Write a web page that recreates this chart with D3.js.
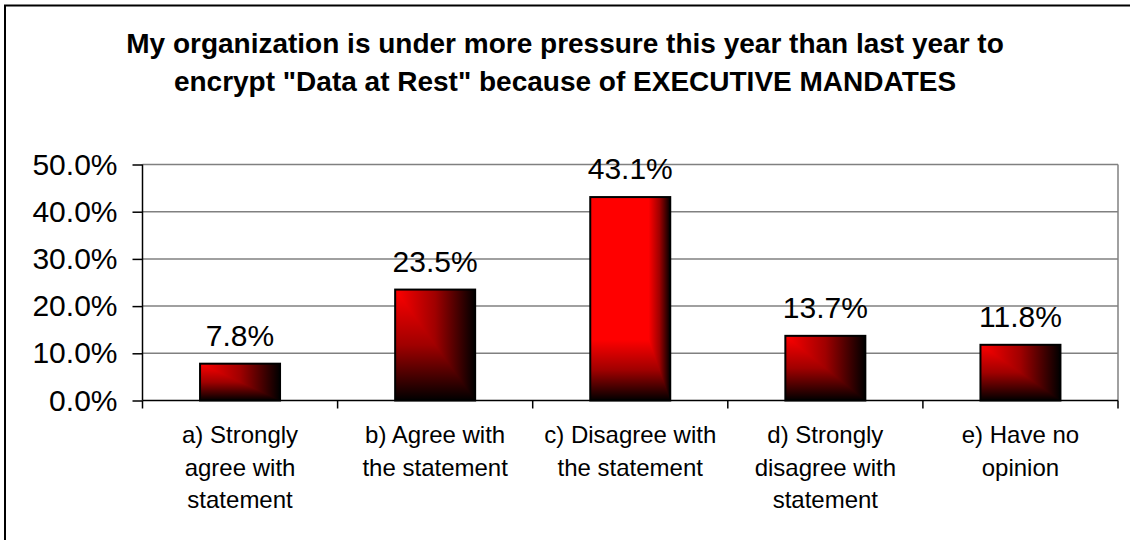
<!DOCTYPE html>
<html>
<head>
<meta charset="utf-8">
<script src="https://cdn.jsdelivr.net/npm/d3@7"></script>
<style>
  body { margin: 0; background: #fff; }
  svg { display: block; }
  text { font-family: "Liberation Sans", Arial, sans-serif; fill: #000; }
</style>
</head>
<body>
<svg id="chart" width="1130" height="540"></svg>
<script>
// Survey results: share of respondents per answer
const titleLines = [
  'My organization is under more pressure this year than last year to',
  'encrypt "Data at Rest" because of EXECUTIVE MANDATES'
];
const categories = ["a", "b", "c", "d", "e"];
const categoryLines = [
  ["a) Strongly", "agree with", "statement"],
  ["b) Agree with", "the statement"],
  ["c) Disagree with", "the statement"],
  ["d) Strongly", "disagree with", "statement"],
  ["e) Have no", "opinion"]
];
const values = [7.8, 23.5, 43.1, 13.7, 11.8];
const yTicks = [0, 10, 20, 30, 40, 50];

const W = 1130, H = 540;
const plot = { left: 142.5, right: 1118, top: 164.5, bottom: 400.5 };

const svg = d3.select("#chart");
const defs = svg.append("defs");

// outer frame
svg.append("path")
  .attr("d", `M5,${H + 5} V5.5 H${W + 5}`)
  .attr("fill", "none").attr("stroke", "#000").attr("stroke-width", 2);

// title
svg.append("text")
  .attr("text-anchor", "middle")
  .attr("font-weight", "bold")
  .attr("font-size", 28)
  .selectAll("tspan").data(titleLines).join("tspan")
  .attr("x", W / 2)
  .attr("y", (d, i) => 53 + i * 38)
  .text(d => d);

const x = d3.scaleBand()
  .domain(categories)
  .range([plot.left, plot.right])
  .paddingInner(0.59)
  .paddingOuter(0.295);

const y = d3.scaleLinear().domain([0, 50]).range([plot.bottom, plot.top]);

// gridlines
svg.append("g").selectAll("line").data(yTicks.filter(t => t > 0)).join("line")
  .attr("x1", plot.left).attr("x2", plot.right)
  .attr("y1", d => y(d)).attr("y2", d => y(d))
  .attr("stroke", "#808080").attr("stroke-width", 1.5);

// plot area right edge
svg.append("line")
  .attr("x1", plot.right).attr("x2", plot.right)
  .attr("y1", plot.top).attr("y2", plot.bottom)
  .attr("stroke", "#808080").attr("stroke-width", 1.5);

// y axis
const yAxis = svg.append("g")
  .attr("transform", `translate(${plot.left},0)`)
  .call(d3.axisLeft(y).tickValues(yTicks).tickSize(10).tickPadding(15)
    .tickFormat(d => d.toFixed(1) + "%"));
yAxis.select(".domain").attr("stroke", "#000").attr("stroke-width", 1.5)
  .attr("d", `M0,${plot.top}V${plot.bottom}`);
yAxis.selectAll(".tick line").attr("stroke", "#000").attr("stroke-width", 1.5);
yAxis.selectAll(".tick text")
  .attr("font-size", 30).attr("font-family", null).attr("fill", "#000");

// x axis
const step = x.step(), bw = x.bandwidth();
const bounds = d3.range(categories.length + 1).map(i =>
  i < categories.length ? x(categories[i]) + bw / 2 - step / 2
                        : x(categories[i - 1]) + bw / 2 + step / 2);
svg.append("line")
  .attr("x1", plot.left).attr("x2", plot.right)
  .attr("y1", plot.bottom).attr("y2", plot.bottom)
  .attr("stroke", "#000").attr("stroke-width", 1.5);
svg.append("g").selectAll("line").data(bounds).join("line")
  .attr("x1", d => d).attr("x2", d => d)
  .attr("y1", plot.bottom).attr("y2", plot.bottom + 8)
  .attr("stroke", "#000").attr("stroke-width", 1.5);

// bars: red-to-black corner gradient, split along the diagonal seam
const bars = categories.map((c, i) => {
  const x0 = x(c), y0 = y(values[i]), h = y(0) - y(values[i]);
  const tall = h > 150;
  const bandX = tall ? bw * 0.27 : bw;
  const bandY = tall ? h * 0.3 : h;
  return { c, v: values[i], i, x0, y0, w: bw, h, bandX, bandY };
});

function addStops(g) {
  g.append("stop").attr("offset", 0).attr("stop-color", "#ff0000");
  g.append("stop").attr("offset", 0.5).attr("stop-color", "#a00000");
  g.append("stop").attr("offset", 1).attr("stop-color", "#000000");
}
bars.forEach(b => {
  const gh = defs.append("linearGradient").attr("id", "gh" + b.i)
    .attr("gradientUnits", "userSpaceOnUse")
    .attr("x1", b.x0 + b.w - b.bandX).attr("x2", b.x0 + b.w)
    .attr("y1", 0).attr("y2", 0);
  addStops(gh);
  const gv = defs.append("linearGradient").attr("id", "gv" + b.i)
    .attr("gradientUnits", "userSpaceOnUse")
    .attr("x1", 0).attr("x2", 0)
    .attr("y1", b.y0 + b.h - b.bandY).attr("y2", b.y0 + b.h);
  addStops(gv);
});

const barG = svg.append("g").selectAll("g").data(bars).join("g");
barG.append("rect")
  .attr("x", d => d.x0).attr("y", d => d.y0)
  .attr("width", d => d.w).attr("height", d => d.h)
  .attr("fill", d => `url(#gv${d.i})`);
barG.append("path")
  .attr("d", d => {
    const fx = d.x0 + d.w - d.bandX, fy = d.y0 + d.h - d.bandY;
    return `M${d.x0},${d.y0}H${d.x0 + d.w}V${d.y0 + d.h}L${fx},${fy}H${d.x0}Z`;
  })
  .attr("fill", d => `url(#gh${d.i})`);
barG.append("rect")
  .attr("x", d => d.x0).attr("y", d => d.y0)
  .attr("width", d => d.w).attr("height", d => d.h)
  .attr("fill", "none").attr("stroke", "#000").attr("stroke-width", 2);

// value labels
svg.append("g").selectAll("text").data(bars).join("text")
  .attr("x", d => d.x0 + d.w / 2)
  .attr("y", d => d.y0 - 18)
  .attr("text-anchor", "middle")
  .attr("font-size", 30)
  .text(d => d.v.toFixed(1) + "%");

// category labels
svg.append("g").selectAll("text").data(categories).join("text")
  .attr("text-anchor", "middle")
  .attr("font-size", 24)
  .each(function (c, i) {
    d3.select(this).selectAll("tspan").data(categoryLines[i]).join("tspan")
      .attr("x", x(c) + bw / 2)
      .attr("y", (d, j) => 443 + j * 32.5)
      .text(d => d);
  });
</script>
</body>
</html>
